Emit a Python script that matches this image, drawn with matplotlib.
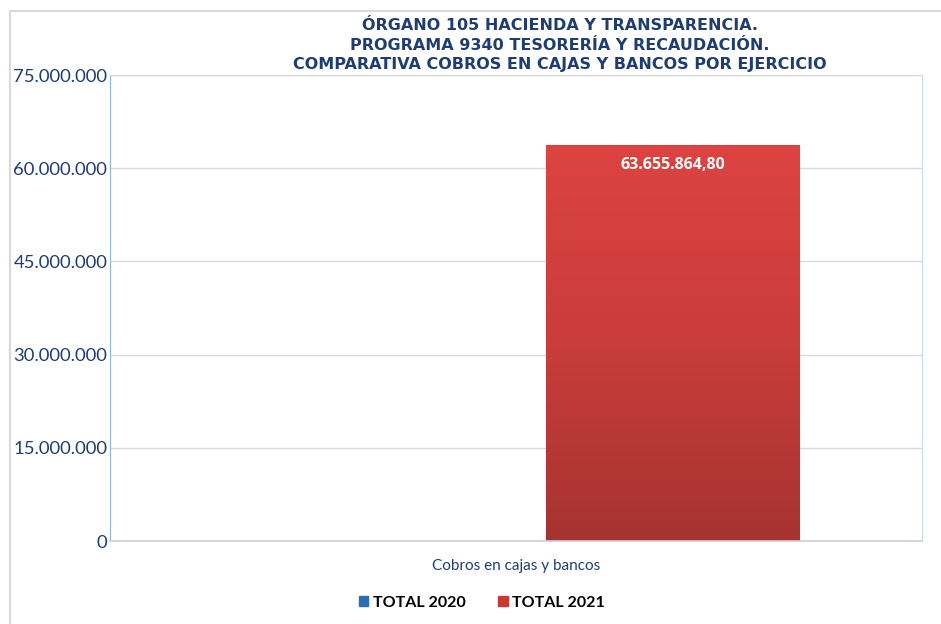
import matplotlib
matplotlib.use("Agg")
from matplotlib import pyplot as plt
from matplotlib.patches import Rectangle, Patch
from matplotlib.ticker import FuncFormatter
from matplotlib.colors import LinearSegmentedColormap
import numpy as np

# data
categories = ['Cobros en cajas y bancos']
series_names = ['TOTAL 2020', 'TOTAL 2021']
total_2020 = [0.0]
total_2021 = [63655864.80]
value_labels = ['63.655.864,80']
title_lines = ['ÓRGANO 105 HACIENDA Y TRANSPARENCIA.',
               'PROGRAMA 9340 TESORERÍA Y RECAUDACIÓN.',
               'COMPARATIVA COBROS EN CAJAS Y BANCOS POR EJERCICIO']

blue_txt = '#1F3D73'
fig = plt.figure(figsize=(9.41, 6.24), dpi=100)

# outer chart border
fig.patches.append(Rectangle((10 / 941, -0.05), 1.0, 1.05 - 11 / 624,
                             transform=fig.transFigure, fill=False,
                             edgecolor='#D9D9D9', linewidth=1.5))

ax = fig.add_axes([110 / 941, 83 / 624, 812 / 941, 466 / 624])

x = np.arange(len(categories))
offset = 0.193
width = 0.312
bars20 = ax.bar(x - offset, total_2020, width, color='#2E6DB4', linewidth=0)
bars21 = ax.bar(x + offset, total_2021, width, color='#C73A36', linewidth=0.8,
                edgecolor='#A8302E')

# vertical gradient on the 2021 bar
cmap = LinearSegmentedColormap.from_list('r', ['#A63331', '#C93D3B', '#DC4341'])
for b in bars21:
    grad = np.linspace(0, 1, 256).reshape(-1, 1)
    im = ax.imshow(grad, cmap=cmap, aspect='auto', origin='lower',
                   extent=[b.get_x(), b.get_x() + b.get_width(), 0, b.get_height()],
                   zorder=2)
    im.set_clip_path(b)

for b, lab in zip(bars21, value_labels):
    ax.text(b.get_x() + b.get_width() / 2, b.get_height() - 3.1e6, lab,
            ha='center', va='center', color='white', fontsize=11.5,
            fontweight='bold', family='Open Sans', zorder=3)

ax.set_xlim(-0.5, 0.5)
ax.set_ylim(0, 75000000)
ax.set_yticks(np.arange(0, 75000001, 15000000))
ax.yaxis.set_major_formatter(FuncFormatter(lambda v, p: f'{int(v):,}'.replace(',', '.')))
ax.set_xticks(x)
ax.set_xticklabels(categories)
ax.tick_params(axis='y', length=0, pad=2, labelsize=13.3, labelcolor=blue_txt)
ax.tick_params(axis='x', length=0, pad=13, labelsize=11, labelcolor=blue_txt)
for lab in ax.get_yticklabels() + ax.get_xticklabels():
    lab.set_family('Lato')

ax.grid(axis='y', color='#D9D9D9', linewidth=1)
ax.set_axisbelow(True)
ax.spines['left'].set_color('#8DB3E2')
ax.spines['right'].set_color('#C6D9F1')
ax.spines['top'].set_color('#D9D9D9')
ax.spines['bottom'].set_color('#D0D0D0')
ax.spines['bottom'].set_linewidth(1.2)

fig.text(560 / 941, 1 - 45 / 624, '\n'.join(title_lines), ha='center', va='center',
         fontsize=11.5, fontweight='bold', color=blue_txt,
         family='DejaVu Sans', linespacing=1.4)

handles = [Patch(facecolor='#2E6DB4', edgecolor='#2E6DB4'),
           Patch(facecolor='#C73A36', edgecolor='#C73A36')]
leg = fig.legend(handles, series_names, loc='center', bbox_to_anchor=(482 / 941, 1 - 603 / 624),
                 ncol=2, frameon=False, handlelength=0.6, handleheight=0.6,
                 handletextpad=0.3, columnspacing=2.0,
                 prop={'family': 'Lato', 'weight': 'bold', 'size': 11.5})

fig.savefig('out.png', dpi=100)
